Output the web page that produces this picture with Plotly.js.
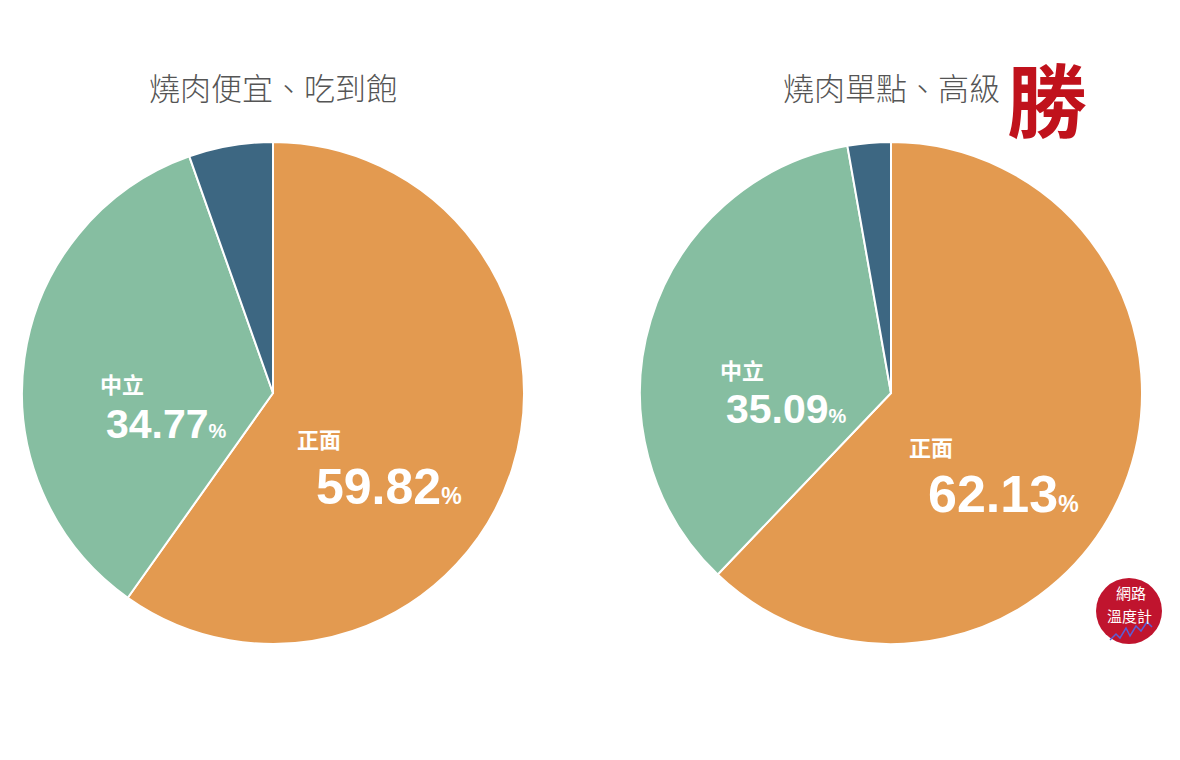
<!DOCTYPE html>
<html>
<head>
<meta charset="utf-8">
<script src="https://cdn.plot.ly/plotly-3.0.1.min.js"></script>
<style>html,body{margin:0;padding:0;background:#fff;}#chart{width:1180px;height:760px;}</style>
</head>
<body>
<div id="chart"></div>
<script>
// Data
const categories = ["正面", "中立", "負面"];
const leftTitle = "燒肉便宜、吃到飽";
const rightTitle = "燒肉單點、高級";
const leftValues = [59.82, 34.77, 5.41];
const rightValues = [62.13, 35.09, 2.78];
const winnerMark = "勝";
const logoLines = ["網路", "溫度計"];

const colors = ["#E39A50", "#86BEA1", "#3D6782"];
const W = 1180, H = 760;
const px = x => x / W;
const py = y => 1 - y / H;

function pieTrace(values, domainX) {
  return {
    type: "pie",
    values: values,
    labels: categories,
    sort: false,
    direction: "clockwise",
    rotation: 0,
    textinfo: "none",
    hoverinfo: "label+percent",
    marker: {colors: colors, line: {color: "#ffffff", width: 2}},
    domain: {x: domainX, y: [py(644), py(142)]},
    showlegend: false
  };
}

const labelFont = {family: "Noto Sans CJK TC, sans-serif", size: 22, color: "#ffffff", weight: 700};
function valueText(v, small) {
  return "<b>" + v.toFixed(2) + "</b><span style=\"font-size:" + small + "px\"><b>%</b></span>";
}
function valueFont(size) {
  return {family: "Liberation Sans, Arial, sans-serif", size: size, color: "#ffffff"};
}
const titleFont = {family: "Noto Sans CJK TC, sans-serif", size: 31, color: "#555555", weight: 300};

const annotations = [
  {text: leftTitle, x: px(273), y: py(87), xref: "paper", yref: "paper", showarrow: false,
   xanchor: "center", yanchor: "middle", font: titleFont},
  {text: rightTitle, x: px(891), y: py(87), xref: "paper", yref: "paper", showarrow: false,
   xanchor: "center", yanchor: "middle", font: titleFont},
  {text: "<b>" + winnerMark + "</b>", x: px(1047), y: py(96), xref: "paper", yref: "paper", showarrow: false,
   xanchor: "center", yanchor: "middle", font: {family: "Noto Sans CJK TC, sans-serif", size: 80, color: "#C0121C"}},
  // left pie labels
  {text: categories[1], x: px(98), y: py(383), xref: "paper", yref: "paper", showarrow: false,
   xanchor: "left", yanchor: "middle", font: labelFont},
  {text: valueText(leftValues[1], 20), x: px(104), y: py(424), xref: "paper", yref: "paper", showarrow: false,
   xanchor: "left", yanchor: "middle", font: valueFont(41)},
  {text: categories[0], x: px(295), y: py(438), xref: "paper", yref: "paper", showarrow: false,
   xanchor: "left", yanchor: "middle", font: labelFont},
  {text: valueText(leftValues[0], 23), x: px(314), y: py(487), xref: "paper", yref: "paper", showarrow: false,
   xanchor: "left", yanchor: "middle", font: valueFont(50)},
  // right pie labels
  {text: categories[1], x: px(718), y: py(369), xref: "paper", yref: "paper", showarrow: false,
   xanchor: "left", yanchor: "middle", font: labelFont},
  {text: valueText(rightValues[1], 20), x: px(724), y: py(409), xref: "paper", yref: "paper", showarrow: false,
   xanchor: "left", yanchor: "middle", font: valueFont(41)},
  {text: categories[0], x: px(907), y: py(446), xref: "paper", yref: "paper", showarrow: false,
   xanchor: "left", yanchor: "middle", font: labelFont},
  {text: valueText(rightValues[0], 23), x: px(926), y: py(494), xref: "paper", yref: "paper", showarrow: false,
   xanchor: "left", yanchor: "middle", font: valueFont(52)},
  // logo
  {text: logoLines[0], x: px(1131), y: py(592), xref: "paper", yref: "paper", showarrow: false,
   xanchor: "center", yanchor: "middle", borderpad: 0,
   font: {family: "Noto Sans CJK TC, sans-serif", size: 15, color: "#ffffff"}},
  {text: logoLines[1], x: px(1129), y: py(615), xref: "paper", yref: "paper", showarrow: false,
   xanchor: "center", yanchor: "middle", borderpad: 0,
   font: {family: "Noto Sans CJK TC, sans-serif", size: 15, color: "#ffffff"}}
];

const shapes = [
  {type: "circle", xref: "paper", yref: "paper", x0: px(1096), x1: px(1162), y0: py(644), y1: py(578),
   fillcolor: "#C0142E", line: {width: 0}, layer: "below"},
  {type: "path", xref: "paper", yref: "paper",
   path: "M " + px(1110) + "," + py(640) + " L " + px(1116) + "," + py(634) + " L " + px(1120) + "," + py(638) +
         " L " + px(1126) + "," + py(628) + " L " + px(1130) + "," + py(636) + " L " + px(1136) + "," + py(626) +
         " L " + px(1141) + "," + py(631) + " L " + px(1147) + "," + py(622) + " L " + px(1152) + "," + py(627),
   line: {color: "#5A5FD6", width: 1.5}, layer: "above"}
];

const layout = {
  width: W, height: H,
  margin: {l: 0, r: 0, t: 0, b: 0},
  paper_bgcolor: "#ffffff",
  plot_bgcolor: "#ffffff",
  showlegend: false,
  annotations: annotations,
  shapes: shapes
};

Plotly.newPlot("chart", [
  pieTrace(leftValues, [px(22), px(524)]),
  pieTrace(rightValues, [px(640), px(1142)])
], layout, {displayModeBar: false, staticPlot: true});
</script>
</body>
</html>
